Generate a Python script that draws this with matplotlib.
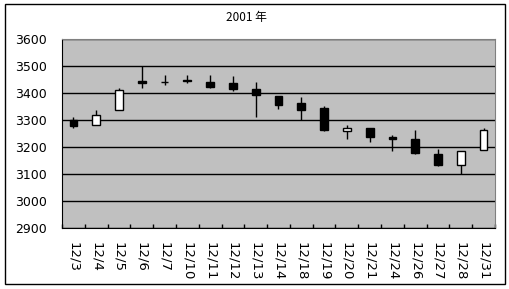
import matplotlib.pyplot as plt
import numpy as np
from matplotlib.patches import Rectangle

plt.rcParams['font.family'] = ['DejaVu Sans', 'Noto Sans CJK JP']

# Daily candles for December 2001
dates = ['12/3', '12/4', '12/5', '12/6', '12/7', '12/10', '12/11', '12/12', '12/13', '12/14',
         '12/18', '12/19', '12/20', '12/21', '12/24', '12/26', '12/27', '12/28', '12/31']
opens = [3299, 3280, 3336, 3443, 3439, 3450, 3442, 3438, 3413, 3390,
         3364, 3343, 3258, 3272, 3236, 3231, 3175, 3135, 3188]
highs = [3312, 3338, 3417, 3500, 3468, 3468, 3468, 3464, 3442, 3390,
         3386, 3353, 3283, 3272, 3246, 3264, 3194, 3187, 3272]
lows = [3272, 3280, 3336, 3417, 3428, 3436, 3417, 3406, 3310, 3339,
        3300, 3260, 3231, 3220, 3184, 3173, 3128, 3100, 3188]
closes = [3277, 3318, 3411, 3437, 3439, 3444, 3422, 3413, 3391, 3354,
          3338, 3264, 3272, 3238, 3230, 3176, 3134, 3187, 3264]
yticks = [2900, 3000, 3100, 3200, 3300, 3400, 3500, 3600]

fig = plt.figure(figsize=(5.10, 2.89), dpi=100)
ax = fig.add_axes([62 / 510, 1 - 228 / 289, 433 / 510, 189 / 289])
ax.set_facecolor('#C0C0C0')

x = np.arange(len(dates))
o = np.array(opens)
c = np.array(closes)

# wicks first, bodies on top
ax.vlines(x, lows, highs, color='black', lw=1, zorder=3)
body_colors = ['white' if cc > oo else 'black' for oo, cc in zip(o, c)]
ax.bar(x, np.abs(c - o), bottom=np.minimum(o, c), width=0.34,
       color=body_colors, edgecolor='black', lw=1, zorder=4)

ax.set_ylim(2900, 3600)
ax.set_xlim(-0.5, len(dates) - 0.5)
ax.set_yticks(yticks)
ax.yaxis.grid(True, color='black', lw=1)
ax.set_axisbelow(True)
ax.tick_params(axis='y', length=0, pad=11, labelsize=9)

ax.set_xticks(x)
ax.set_xticklabels(dates, rotation=-90, fontsize=9.5)
ax.tick_params(axis='x', which='major', length=0, pad=10)
ax.set_xticks(np.arange(-0.5, len(dates)), minor=True)
ax.tick_params(axis='x', which='minor', direction='in', length=3, width=1)

for s in ['top', 'right']:
    ax.spines[s].set_color('#808080')
for s in ['left', 'bottom']:
    ax.spines[s].set_color('black')

fig.text(246 / 510, 1 - 17 / 289, '2001 年', ha='center', va='center', fontsize=8.5,
         family=['Noto Sans CJK JP', 'DejaVu Sans'])

# chart area border
fig.patches.append(Rectangle((5 / 510, 1 - 284 / 289), 500 / 510, 280 / 289,
                             transform=fig.transFigure, fill=False,
                             edgecolor='black', lw=1))

fig.savefig('out.png', dpi=100, facecolor='white')
